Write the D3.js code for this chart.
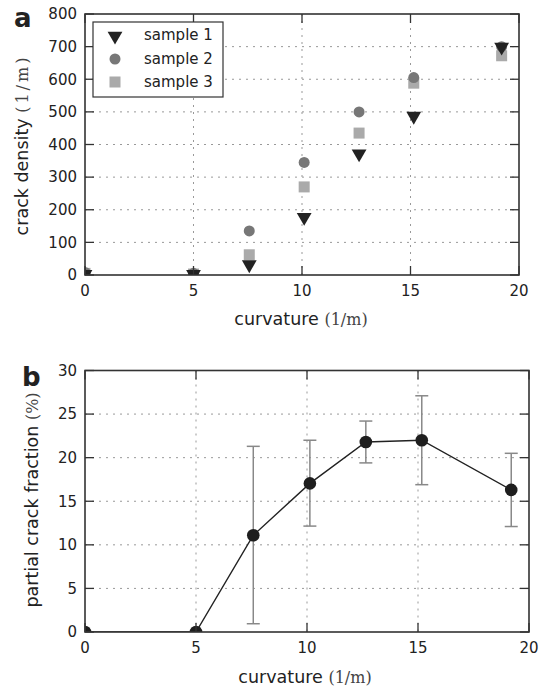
<!DOCTYPE html>
<html>
<head>
<meta charset="utf-8">
<script src="https://cdn.jsdelivr.net/npm/d3@7"></script>
<style>
  body { margin: 0; background: #fff; }
  svg { font-family: "DejaVu Sans", sans-serif; }
</style>
</head>
<body>
<svg id="chart" width="550" height="692"></svg>
<script>
// panel a
var curvA = [0, 5, 7.57, 10.1, 12.63, 15.15, 19.2];
var sample1 = [5, 5, 35, 180, 375, 490, 702];
var sample2 = [8, 5, 135, 345, 500, 605, 700];
var sample3 = [5, 3, 62, 270, 435, 588, 672];
var seriesNames = ["sample 1", "sample 2", "sample 3"];
var ticksA_x = [0, 5, 10, 15, 20];
var ticksA_y = [0, 100, 200, 300, 400, 500, 600, 700, 800];

// panel b
var curvB = [0, 5, 7.58, 10.13, 12.65, 15.17, 19.2];
var fraction = [0, 0, 11.1, 17.05, 21.8, 22.0, 16.3];
var errLow = [null, null, 0.95, 12.15, 19.4, 16.9, 12.1];
var errHigh = [null, null, 21.3, 22.0, 24.2, 27.1, 20.5];
var ticksB_x = [0, 5, 10, 15, 20];
var ticksB_y = [0, 5, 10, 15, 20, 25, 30];

var svg = d3.select("#chart");
var defs = svg.append("defs");

function frame(g, x, y, xt, yt, w, h, id){
  // grid
  g.append("g").selectAll("line.gx").data(xt.slice(1, -1)).enter().append("line")
    .attr("x1", d => x(d)).attr("x2", d => x(d)).attr("y1", 0).attr("y2", h)
    .attr("stroke", "#999").attr("stroke-width", 1).attr("stroke-dasharray", "2,5");
  g.append("g").selectAll("line.gy").data(yt.slice(1, -1)).enter().append("line")
    .attr("y1", d => y(d)).attr("y2", d => y(d)).attr("x1", 0).attr("x2", w)
    .attr("stroke", "#999").attr("stroke-width", 1).attr("stroke-dasharray", "2,5");

  defs.append("clipPath").attr("id", id).append("rect")
    .attr("x", 0).attr("y", 0).attr("width", w).attr("height", h);
}

function axes(g, x, y, xt, yt, w, h){
  var tk = 9;
  var ax = g.append("g").attr("stroke", "#333").attr("stroke-width", 1.3);
  xt.forEach(function(d){
    ax.append("line").attr("x1", x(d)).attr("x2", x(d)).attr("y1", h).attr("y2", h - tk);
    ax.append("line").attr("x1", x(d)).attr("x2", x(d)).attr("y1", 0).attr("y2", tk);
  });
  yt.forEach(function(d){
    ax.append("line").attr("y1", y(d)).attr("y2", y(d)).attr("x1", 0).attr("x2", tk);
    ax.append("line").attr("y1", y(d)).attr("y2", y(d)).attr("x1", w).attr("x2", w - tk);
  });
  g.append("rect").attr("width", w).attr("height", h)
    .attr("fill", "none").attr("stroke", "#333").attr("stroke-width", 1.6);

  g.append("g").selectAll("text").data(xt).enter().append("text")
    .attr("x", d => x(d)).attr("y", h + 21)
    .attr("text-anchor", "middle").attr("font-size", 15).attr("fill", "#222")
    .text(d => d);
  g.append("g").selectAll("text").data(yt).enter().append("text")
    .attr("x", -8).attr("y", d => y(d)).attr("dy", "0.35em")
    .attr("text-anchor", "end").attr("font-size", 15).attr("fill", "#222")
    .text(d => d);
}

function label(el, main, unit, spacing){
  el.append("tspan").text(main + " ");
  el.append("tspan").attr("font-family", "'DejaVu Serif', serif").attr("fill", "#444")
    .attr("font-size", 16).attr("letter-spacing", spacing || 0).text(unit);
}

// ---------- panel a ----------
var wA = 434, hA = 261;
var gA = svg.append("g").attr("transform", "translate(85,14)");
var xA = d3.scaleLinear().domain([0, 20]).range([0, wA]);
var yA = d3.scaleLinear().domain([0, 800]).range([hA, 0]);

frame(gA, xA, yA, ticksA_x, ticksA_y, wA, hA, "clipA");

var ptsA = gA.append("g").attr("clip-path", "url(#clipA)");
var tri = d3.symbol().type(d3.symbolTriangle).size(95);

ptsA.selectAll("rect.s3").data(curvA).enter().append("rect")
  .attr("x", (d, i) => xA(d) - 5.5).attr("y", (d, i) => yA(sample3[i]) - 5.5)
  .attr("width", 11).attr("height", 11).attr("fill", "#aaa");
ptsA.selectAll("circle.s2").data(curvA).enter().append("circle")
  .attr("cx", d => xA(d)).attr("cy", (d, i) => yA(sample2[i]))
  .attr("r", 5.5).attr("fill", "#777");
ptsA.selectAll("path.s1").data(curvA).enter().append("path")
  .attr("d", tri)
  .attr("transform", (d, i) => "translate(" + xA(d) + "," + (yA(sample1[i]) + 1) + ") rotate(180)")
  .attr("fill", "#222");

axes(gA, xA, yA, ticksA_x, ticksA_y, wA, hA);

// legend
var lg = gA.append("g").attr("transform", "translate(8,8)");
lg.append("rect").attr("width", 130).attr("height", 75)
  .attr("fill", "#fff").attr("stroke", "#333").attr("stroke-width", 1.2);
lg.append("path").attr("d", tri).attr("transform", "translate(22,14) rotate(180)").attr("fill", "#222");
lg.append("circle").attr("cx", 22).attr("cy", 37).attr("r", 5.5).attr("fill", "#777");
lg.append("rect").attr("x", 16.5).attr("y", 54.5).attr("width", 11).attr("height", 11).attr("fill", "#aaa");
lg.selectAll("text").data(seriesNames).enter().append("text")
  .attr("x", 51).attr("y", (d, i) => 13 + i * 23.5).attr("dy", "0.35em")
  .attr("font-size", 15).attr("fill", "#222").text(d => d);

var xlabA = svg.append("text").attr("x", 301).attr("y", 325)
  .attr("text-anchor", "middle").attr("font-size", 17.5).attr("fill", "#222");
label(xlabA, "curvature", "(1/m)");
var ylabA = svg.append("text").attr("transform", "translate(28,145) rotate(-90)")
  .attr("text-anchor", "middle").attr("font-size", 17.5).attr("fill", "#222");
label(ylabA, "crack density", "(1/m)", 3);
svg.append("text").attr("x", 14).attr("y", 27).attr("font-size", 26)
  .attr("font-weight", "bold").attr("fill", "#222").text("a");

// ---------- panel b ----------
var wB = 444, hB = 261.5;
var gB = svg.append("g").attr("transform", "translate(85,370.5)");
var xB = d3.scaleLinear().domain([0, 20]).range([0, wB]);
var yB = d3.scaleLinear().domain([0, 30]).range([hB, 0]);

frame(gB, xB, yB, ticksB_x, ticksB_y, wB, hB, "clipB");

var pb = curvB.map((d, i) => ({x: d, y: fraction[i], lo: errLow[i], hi: errHigh[i]}));
var withErr = pb.filter(d => d.lo !== null);

var eb = gB.append("g").attr("stroke", "#888").attr("stroke-width", 1.5);
eb.selectAll("line.v").data(withErr).enter().append("line")
  .attr("x1", d => xB(d.x)).attr("x2", d => xB(d.x))
  .attr("y1", d => yB(d.lo)).attr("y2", d => yB(d.hi));
eb.selectAll("line.hi").data(withErr).enter().append("line")
  .attr("x1", d => xB(d.x) - 6.5).attr("x2", d => xB(d.x) + 6.5)
  .attr("y1", d => yB(d.hi)).attr("y2", d => yB(d.hi));
eb.selectAll("line.lo").data(withErr).enter().append("line")
  .attr("x1", d => xB(d.x) - 6.5).attr("x2", d => xB(d.x) + 6.5)
  .attr("y1", d => yB(d.lo)).attr("y2", d => yB(d.lo));

var ptsB = gB.append("g").attr("clip-path", "url(#clipB)");
ptsB.append("path").datum(pb)
  .attr("d", d3.line().x(d => xB(d.x)).y(d => yB(d.y)))
  .attr("fill", "none").attr("stroke", "#222").attr("stroke-width", 1.4);
ptsB.selectAll("circle").data(pb).enter().append("circle")
  .attr("cx", d => xB(d.x)).attr("cy", d => yB(d.y))
  .attr("r", 6.3).attr("fill", "#1e1e1e");

axes(gB, xB, yB, ticksB_x, ticksB_y, wB, hB);

var xlabB = svg.append("text").attr("x", 305).attr("y", 683)
  .attr("text-anchor", "middle").attr("font-size", 17.5).attr("fill", "#222");
label(xlabB, "curvature", "(1/m)");
var ylabB = svg.append("text").attr("transform", "translate(38,500) rotate(-90)")
  .attr("text-anchor", "middle").attr("font-size", 17.5).attr("fill", "#222");
label(ylabB, "partial crack fraction", "(%)");
svg.append("text").attr("x", 22).attr("y", 386).attr("font-size", 26)
  .attr("font-weight", "bold").attr("fill", "#222").text("b");
</script>
</body>
</html>
